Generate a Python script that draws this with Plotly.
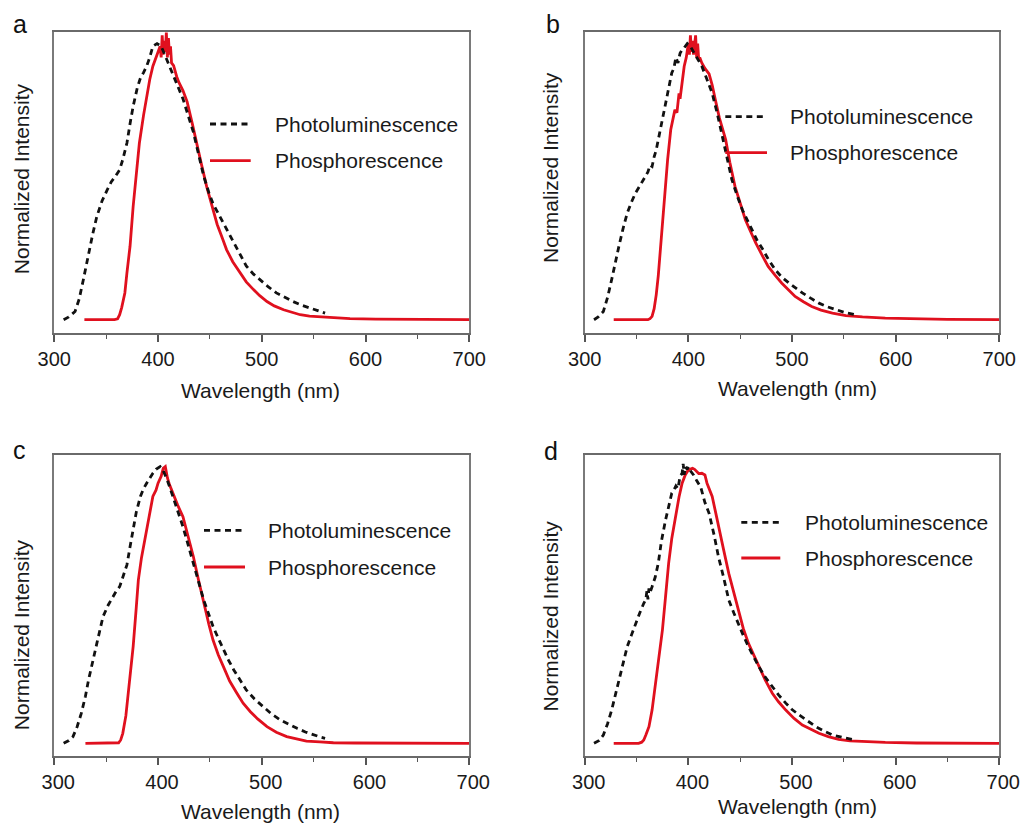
import plotly.graph_objects as go

# ---------------- data ----------------
# Panel a
a_pl_x = [309, 314, 320, 324, 328, 333, 337, 341, 346, 351, 355, 359, 363, 366, 370, 373, 376, 380, 383, 386,
          389, 392, 395, 399, 403, 407, 411, 415, 420, 424, 429, 434, 439, 444, 449, 453, 458, 463, 468, 473,
          479, 485, 492, 498, 506, 514, 522, 530, 538, 547, 555, 561]
a_pl_y = [0.0, 0.01, 0.03, 0.075, 0.145, 0.24, 0.31, 0.374, 0.43, 0.47, 0.50, 0.52, 0.543, 0.58, 0.64, 0.71,
          0.773, 0.84, 0.875, 0.895, 0.918, 0.95, 0.99, 1.0, 0.99, 0.955, 0.92, 0.88, 0.84, 0.80, 0.74, 0.68,
          0.60, 0.52, 0.46, 0.42, 0.385, 0.35, 0.31, 0.278, 0.235, 0.195, 0.165, 0.145, 0.12, 0.097, 0.08,
          0.066, 0.053, 0.042, 0.032, 0.024]
a_ph_x = [329, 340, 350, 358, 361, 363, 365, 368, 370, 373, 376, 379, 382, 386, 389, 392, 395, 398, 400, 402,
          403, 404, 405, 406, 407, 408, 409, 410, 411, 412, 413, 415, 418, 420, 424, 428, 433, 437, 442, 447,
          452, 457, 462, 466, 472, 479, 485, 492, 498, 505, 512, 521, 529, 537, 546, 556, 570, 585, 610, 640,
          670, 700]
a_ph_y = [0, 0, 0, 0.0, 0.003, 0.018, 0.045, 0.097, 0.17, 0.266, 0.41, 0.53, 0.64, 0.74, 0.81, 0.87, 0.918,
          0.95, 0.97, 0.99, 0.95, 1.03, 0.96, 1.01, 0.97, 1.04, 0.95, 1.02, 0.96, 0.99, 0.93, 0.92, 0.88, 0.86,
          0.83, 0.79, 0.71, 0.64, 0.56, 0.48, 0.41, 0.345, 0.295, 0.254, 0.21, 0.17, 0.137, 0.109, 0.087, 0.066,
          0.05, 0.036, 0.026, 0.018, 0.013, 0.01, 0.006, 0.004, 0.002, 0.001, 0.0, 0.0]

# Panel b
b_pl_x = [309, 313, 318, 322, 326, 330, 333, 337, 341, 345, 349, 354, 358, 361, 363, 365, 367, 369, 371, 374,
          378, 381, 384, 386, 388, 390, 392, 394, 396, 399, 402, 405, 409, 413, 418, 423, 428, 432, 437, 442,
          447, 452, 457, 461, 466, 471, 477, 484, 490, 497, 503, 510, 518, 526, 534, 542, 551, 561]
b_pl_y = [0.0, 0.01, 0.03, 0.08, 0.145, 0.22, 0.266, 0.33, 0.386, 0.425, 0.459, 0.49, 0.519, 0.535, 0.56,
          0.555, 0.59, 0.615, 0.652, 0.71, 0.785, 0.845, 0.894, 0.91, 0.95, 0.93, 0.965, 0.978, 0.985, 1.0,
          0.99, 0.97, 0.945, 0.918, 0.87, 0.82, 0.745, 0.68, 0.59, 0.507, 0.45, 0.399, 0.36, 0.326, 0.29, 0.26,
          0.22, 0.18, 0.155, 0.133, 0.115, 0.097, 0.078, 0.06, 0.047, 0.036, 0.026, 0.018]
b_ph_x = [328, 340, 352, 361, 363, 365, 367, 369, 371, 373, 375, 378, 380, 383, 385, 387, 389, 391, 392, 394,
          396, 398, 400, 401, 402, 403, 404, 405, 406, 407, 408, 409, 410, 411, 413, 416, 420, 423, 426, 430,
          436, 440, 445, 450, 455, 460, 465, 471, 477, 484, 490, 497, 503, 511, 519, 528, 539, 552, 568, 590,
          616, 650, 700]
b_ph_y = [0, 0, 0, 0, 0.004, 0.012, 0.04, 0.09, 0.16, 0.254, 0.35, 0.483, 0.58, 0.688, 0.72, 0.76, 0.75, 0.82,
          0.80, 0.86, 0.918, 0.95, 1.0, 0.96, 1.03, 0.97, 1.01, 0.96, 0.99, 1.03, 0.95, 1.0, 0.94, 0.95, 0.93,
          0.91, 0.89, 0.85, 0.797, 0.73, 0.652, 0.57, 0.483, 0.42, 0.362, 0.32, 0.278, 0.235, 0.193, 0.16, 0.133,
          0.107, 0.084, 0.065, 0.048, 0.035, 0.024, 0.015, 0.01, 0.006, 0.003, 0.001, 0.0]

# Panel c
c_pl_x = [309, 314, 318, 322, 326, 330, 333, 337, 341, 344, 347, 352, 357, 360, 363, 366, 370, 373, 376, 379,
          383, 386, 389, 392, 395, 398, 402, 405, 409, 414, 419, 424, 429, 434, 439, 444, 449, 453, 458, 463,
          468, 473, 479, 485, 493, 501, 509, 518, 526, 534, 542, 550, 556, 561]
c_pl_y = [0, 0.01, 0.024, 0.06, 0.108, 0.17, 0.229, 0.3, 0.361, 0.41, 0.458, 0.5, 0.536, 0.552, 0.566, 0.6,
          0.645, 0.71, 0.771, 0.835, 0.892, 0.92, 0.94, 0.96, 0.976, 0.99, 1.0, 0.985, 0.95, 0.895, 0.84, 0.783,
          0.717, 0.651, 0.58, 0.518, 0.465, 0.422, 0.38, 0.337, 0.3, 0.265, 0.228, 0.193, 0.16, 0.133, 0.107,
          0.084, 0.068, 0.054, 0.041, 0.03, 0.023, 0.018]
c_ph_x = [330, 340, 352, 362, 364, 366, 369, 371, 374, 376, 379, 381, 384, 386, 388, 391, 393, 395, 398, 400,
          403, 405, 407, 409, 411, 414, 419, 424, 429, 434, 439, 444, 449, 453, 458, 463, 469, 476, 482, 489,
          496, 505, 514, 524, 534, 543, 556, 569, 590, 620, 660, 700]
c_ph_y = [0, 0, 0, 0.002, 0.012, 0.036, 0.1, 0.169, 0.26, 0.349, 0.49, 0.59, 0.67, 0.711, 0.75, 0.807, 0.85,
          0.892, 0.915, 0.94, 0.965, 0.994, 1.0, 0.96, 0.935, 0.904, 0.86, 0.819, 0.75, 0.675, 0.59, 0.506, 0.43,
          0.373, 0.32, 0.277, 0.225, 0.181, 0.145, 0.114, 0.088, 0.06, 0.04, 0.024, 0.015, 0.008, 0.005, 0.002,
          0.001, 0.0, 0.0, 0.0]

# Panel d
d_pl_x = [309, 314, 318, 322, 326, 330, 333, 337, 341, 345, 349, 353, 357, 359, 360, 361, 362, 363, 365, 368,
          371, 374, 378, 381, 384, 386, 388, 390, 392, 394, 395, 396, 397, 399, 400, 402, 405, 408, 412, 416,
          420, 425, 429, 434, 439, 444, 449, 453, 458, 463, 468, 474, 481, 487, 494, 500, 507, 515, 523, 531,
          539, 550, 561]
d_pl_y = [0, 0.01, 0.03, 0.07, 0.12, 0.18, 0.229, 0.29, 0.349, 0.39, 0.434, 0.47, 0.506, 0.52, 0.55, 0.52,
          0.56, 0.545, 0.566, 0.6, 0.651, 0.73, 0.807, 0.86, 0.904, 0.915, 0.93, 0.92, 0.965, 0.976, 1.01, 0.97,
          1.0, 0.99, 1.0, 0.985, 0.97, 0.95, 0.925, 0.87, 0.831, 0.75, 0.675, 0.6, 0.518, 0.47, 0.422, 0.39,
          0.349, 0.31, 0.277, 0.24, 0.205, 0.175, 0.145, 0.122, 0.102, 0.08, 0.06, 0.044, 0.03, 0.02, 0.012]
d_ph_x = [328, 340, 352, 355, 357, 359, 362, 365, 368, 371, 375, 378, 381, 384, 388, 391, 394, 397, 400, 404,
          406, 408, 410, 413, 416, 418, 420, 423, 426, 429, 434, 439, 444, 449, 453, 458, 463, 468, 474, 481,
          487, 494, 502, 510, 518, 526, 535, 545, 556, 568, 590, 620, 660, 700]
d_ph_y = [0, 0, 0, 0.004, 0.012, 0.03, 0.06, 0.12, 0.205, 0.3, 0.41, 0.53, 0.651, 0.74, 0.831, 0.89, 0.94,
          0.97, 0.988, 0.994, 0.99, 0.982, 0.975, 0.976, 0.97, 0.94, 0.92, 0.892, 0.84, 0.783, 0.7, 0.614, 0.54,
          0.47, 0.415, 0.361, 0.318, 0.277, 0.23, 0.181, 0.15, 0.12, 0.09, 0.066, 0.05, 0.036, 0.024, 0.014,
          0.009, 0.006, 0.003, 0.001, 0.0, 0.0]

panel_labels = ["a", "b", "c", "d"]
series_names = ["Photoluminescence", "Phosphorescence"]
x_tick_values = [300, 400, 500, 600, 700]
x_title = "Wavelength (nm)"
y_title = "Normalized Intensity"

# ---------------- layout helpers ----------------
W, H = 1024, 826
FONT = "Liberation Sans, Arial, Helvetica, sans-serif"
RED = "#E0101E"
BLACK = "#111111"


def px(x):
    return x / W


def py(y):
    return 1 - y / H


panels = [
    dict(data=(a_pl_x, a_pl_y, a_ph_x, a_ph_y), box=(54.3, 469.3, 31.7, 332.7),
         leg=(210, 250.7, 124, 160.7, 272.7), lab=(19.7, 24), ytl=(21.7, 178.5), xtl=(260.3, 390), shift=0),
    dict(data=(b_pl_x, b_pl_y, b_ph_x, b_ph_y), box=(584.7, 999.3, 31.7, 332.7),
         leg=(725.3, 767, 116.7, 152.7, 788), lab=(552.5, 24), ytl=(550, 168), xtl=(797.8, 388), shift=0),
    dict(data=(c_pl_x, c_pl_y, c_ph_x, c_ph_y), box=(54.3, 469.3, 454.7, 756.3),
         leg=(204, 245, 530.3, 567, 265.7), lab=(19.5, 450), ytl=(21.7, 634.5), xtl=(260.8, 811.3), shift=4),
    dict(data=(d_pl_x, d_pl_y, d_ph_x, d_ph_y), box=(584.7, 999.3, 454.7, 756.3),
         leg=(741.3, 780.3, 522.3, 558, 802.7), lab=(550.5, 451), ytl=(550, 616.5), xtl=(797.8, 806.3), shift=4),
]

fig = go.Figure()
shapes = []
annotations = []
layout_axes = {}

for i, p in enumerate(panels):
    n = "" if i == 0 else str(i + 1)
    xa, ya = "x" + n, "y" + n
    pl_x, pl_y, ph_x, ph_y = p["data"]
    # phosphorescence first, photoluminescence on top
    fig.add_trace(go.Scatter(x=ph_x, y=ph_y, mode="lines", name=series_names[1], xaxis=xa, yaxis=ya,
                             line=dict(color=RED, width=2.8), showlegend=False))
    fig.add_trace(go.Scatter(x=pl_x, y=pl_y, mode="lines", name=series_names[0], xaxis=xa, yaxis=ya,
                             line=dict(color=BLACK, width=2.8, dash="6px,4.5px"), showlegend=False))

    l, r, t, b = p["box"]
    layout_axes["xaxis" + n] = dict(
        domain=[px(l), px(r)], anchor=ya, range=[300, 700], tickmode="array", tickvals=x_tick_values,
        ticks="outside", ticklen=7, tickwidth=1.5, tickcolor="#555555",
        minor=dict(ticks="outside", ticklen=4, tickwidth=1.3, tickcolor="#555555", dtick=50, tick0=300),
        showline=True, linecolor="#6a6a6a", linewidth=1.6, mirror=True, automargin=False,
        showgrid=False, zeroline=False, ticklabelshift=p["shift"],
        tickfont=dict(family=FONT, size=20, color="#1a1a1a"),
    )
    layout_axes["yaxis" + n] = dict(
        domain=[py(b), py(t)], anchor=xa, range=[-0.047, 1.043], showticklabels=False, ticks="",
        showline=True, linecolor="#7a7a7a", linewidth=1.6, mirror=True, showgrid=False, zeroline=False,
        automargin=False,
    )

    # legend keys and texts
    x0, x1, y1, y2, tx = p["leg"]
    shapes.append(dict(type="line", xref="paper", yref="paper", x0=px(x0), x1=px(x1), y0=py(y1), y1=py(y1),
                       line=dict(color=BLACK, width=2.8, dash="6px,4.5px")))
    shapes.append(dict(type="line", xref="paper", yref="paper", x0=px(x0), x1=px(x1), y0=py(y2), y1=py(y2),
                       line=dict(color=RED, width=2.8)))
    for yy, name in ((y1, series_names[0]), (y2, series_names[1])):
        annotations.append(dict(x=px(tx), y=py(yy), xref="paper", yref="paper", text=name, showarrow=False,
                                xanchor="left", yanchor="middle",
                                font=dict(family=FONT, size=21, color="#1a1a1a")))
    # panel letter
    lx, ly = p["lab"]
    annotations.append(dict(x=px(lx), y=py(ly), xref="paper", yref="paper", text=panel_labels[i],
                            showarrow=False, xanchor="center", yanchor="middle",
                            font=dict(family=FONT, size=25, color="#111111")))
    # axis titles
    yx, yy = p["ytl"]
    annotations.append(dict(x=px(yx), y=py(yy), xref="paper", yref="paper", text=y_title, textangle=-90,
                            showarrow=False, xanchor="center", yanchor="middle",
                            font=dict(family=FONT, size=21, color="#1a1a1a")))
    xx, xy = p["xtl"]
    annotations.append(dict(x=px(xx), y=py(xy), xref="paper", yref="paper", text=x_title,
                            showarrow=False, xanchor="center", yanchor="middle",
                            font=dict(family=FONT, size=21, color="#1a1a1a")))

fig.update_layout(
    width=W, height=H, autosize=False, margin=dict(l=0, r=0, t=0, b=0, pad=0, autoexpand=False),
    paper_bgcolor="white", plot_bgcolor="white", showlegend=False,
    shapes=shapes, annotations=annotations, **layout_axes,
)

fig.write_html(
    "out.html", include_plotlyjs=True,
    config={"displayModeBar": False, "responsive": False},
    post_script="document.body.style.margin='0';document.body.style.overflow='hidden';",
)
